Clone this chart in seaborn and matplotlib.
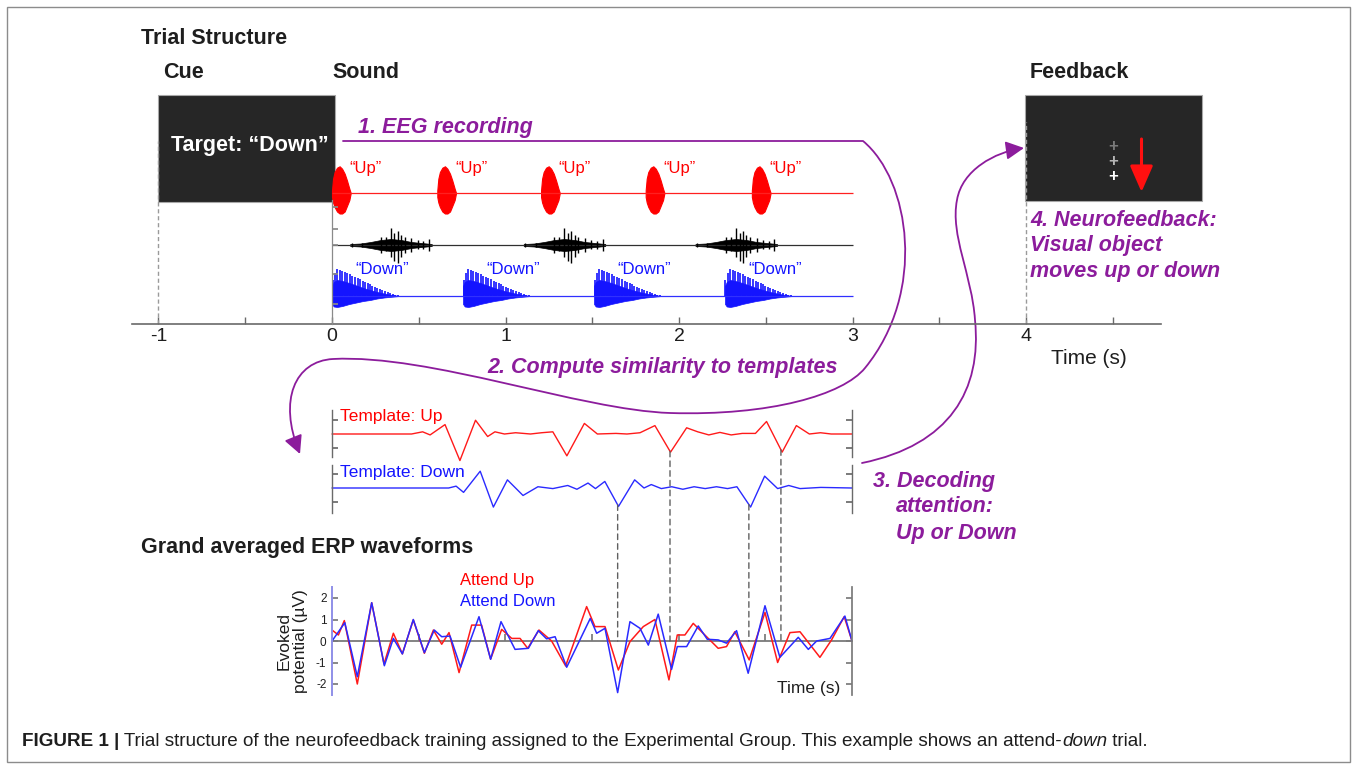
import numpy as np
import matplotlib
matplotlib.use("Agg")
import matplotlib.pyplot as plt
import seaborn as sns
from matplotlib.patches import Rectangle, FancyArrowPatch, ConnectionPatch
from matplotlib.path import Path

# ---------------- data ----------------
TIME_TICKS = [-1, 0, 1, 2, 3, 4]
TIME_MINOR = [-0.5, 0.5, 1.5, 2.5, 3.5, 4.5]
SOUND_END = 3.0

# red "Up" stream: burst onsets (s) and burst envelope (a.u.)
UP_ONSETS = [0.0, 0.607, 1.205, 1.808, 2.42]
UP_ENV_T = [0, 0.006, 0.015, 0.029, 0.044, 0.058, 0.073, 0.086, 0.100, 0.108]
UP_ENV_TOP = [0.27, 1.43, 2.10, 2.53, 2.67, 2.43, 1.93, 1.27, 0.43, 0.0]
UP_ENV_BOT = [-0.40, -0.95, -1.40, -1.85, -2.05, -2.05, -1.85, -1.30, -0.70, 0.0]

# blue "Down" stream
DOWN_ONSETS = [0.0, 0.755, 1.51, 2.265]
DOWN_ENV_T = [0, 0.01, 0.03, 0.06, 0.10, 0.14, 0.18, 0.22, 0.26, 0.30, 0.34, 0.39]
DOWN_ENV_MID = [1.0, 1.4, 1.6, 1.5, 1.3, 1.05, 0.8, 0.6, 0.4, 0.25, 0.12, 0.0]
DOWN_ENV_BOT = [-0.8, -1.05, -1.1, -1.0, -0.8, -0.65, -0.5, -0.4, -0.25, -0.15, -0.08, 0.0]
DOWN_SPIKE_T = [0.003, 0.017, 0.031, 0.046, 0.060, 0.075, 0.089, 0.104, 0.118, 0.133,
                0.147, 0.161, 0.176, 0.190, 0.205, 0.219, 0.233, 0.248, 0.262, 0.277,
                0.291, 0.305, 0.320, 0.334, 0.349, 0.363, 0.378]
DOWN_SPIKE_H = [1.6, 2.3, 2.7, 2.6, 2.5, 2.4, 2.3, 2.2, 2.0, 1.9,
                1.8, 1.7, 1.5, 1.4, 1.3, 1.2, 1.05, 0.95, 0.85, 0.7,
                0.6, 0.5, 0.4, 0.3, 0.2, 0.15, 0.1]

# black mixture (speech masker)
MIX_PEAKS = [0.34, 1.34, 2.33]
MIX_ENV_T = [-0.235, -0.176, -0.118, -0.059, 0, 0.059, 0.118, 0.176, 0.235]
MIX_ENV = [0.1, 0.15, 0.3, 0.5, 0.6, 0.5, 0.3, 0.2, 0.1]
MIX_SPIKE_T = [-0.225, -0.167, -0.059, -0.029, 0, 0.020, 0.039, 0.059, 0.078, 0.118, 0.153, 0.186, 0.220]
MIX_SPIKE_UP = [0.2, 0.2, 0.8, 0.8, 1.7, 1.2, 1.4, 1.0, 0.8, 0.7, 0.5, 0.4, 0.6]
MIX_SPIKE_DN = [-0.2, -0.2, -0.8, -0.6, -1.2, -1.6, -1.8, -1.2, -0.8, -0.7, -0.4, -0.4, -0.6]

# templates (a.u.)
TPL_UP_T = [0, 0.459, 0.523, 0.566, 0.652, 0.738, 0.828, 0.898, 0.94, 0.995, 1.059, 1.145,
            1.209, 1.274, 1.355, 1.456, 1.531, 1.638, 1.702, 1.777, 1.863, 1.953, 2.046,
            2.11, 2.174, 2.238, 2.303, 2.367, 2.443, 2.507, 2.597, 2.679, 2.754, 2.818,
            2.88, 3.0]
TPL_UP = [0, 0, 0.26, -0.11, 1.12, -3.16, 1.64, -0.30, 0.26, 0, 0.15, 0,
          0.15, 0.26, -2.60, 1.26, 0, 0.07, 0, 0.15, 1.0, -2.16, 0.74,
          0.26, -0.11, 0.19, -0.11, 0.07, 0.07, 1.49, -2.16, 1.0, 0, 0.15,
          0, 0]
TPL_DOWN_T = [0, 0.673, 0.716, 0.759, 0.855, 0.931, 1.012, 1.102, 1.188, 1.274, 1.36,
              1.413, 1.477, 1.52, 1.574, 1.653, 1.746, 1.80, 1.842, 1.90, 1.96, 2.024,
              2.089, 2.153, 2.218, 2.282, 2.336, 2.415, 2.496, 2.571, 2.635, 2.70, 2.82, 3.0]
TPL_DOWN = [0, 0, 0.22, -0.52, 2.0, -2.27, 0.97, -0.89, 0.15, -0.07, 0.30,
            -0.15, 0.59, -0.07, 0.78, -2.19, 0.97, 0, 0.41, -0.07, 0.15, -0.15,
            0.15, -0.07, 0.15, -0.07, 0.15, -2.27, 1.41, -0.07, 0.30, -0.07, 0.07, 0]

# grand averaged ERPs (uV)
ERP_UP_T = [0.0, 0.037, 0.071, 0.146, 0.229, 0.300, 0.354, 0.406, 0.469, 0.533, 0.585,
            0.633, 0.675, 0.733, 0.806, 0.863, 0.915, 0.979, 1.037, 1.085, 1.129, 1.194,
            1.267, 1.348, 1.469, 1.517, 1.575, 1.652, 1.719, 1.796, 1.863, 1.944, 1.992,
            2.036, 2.084, 2.151, 2.228, 2.276, 2.324, 2.407, 2.498, 2.571, 2.642, 2.70,
            2.815, 2.882, 2.955, 3.0]
ERP_UP = [0.51, 0.28, 0.95, -2.0, 1.78, -1.07, 0.36, -0.6, 0.98, -0.57, 0.51,
          -0.15, 0.39, -1.47, 0.74, 0.74, -0.84, 0.54, 0.12, 0.12, -0.34, 0.51,
          0.0, -1.16, 1.6, 0.67, 0.67, -1.35, -0.03, 0.67, 1.0, -1.81, 0.28,
          0.28, 0.82, 0.28, -0.34, -0.26, 0.43, -0.88, 1.33, -1.0, 0.39, 0.43,
          -0.76, 0.05, 1.13, 0.0]
ERP_DOWN_T = [0.0, 0.074, 0.146, 0.229, 0.302, 0.354, 0.406, 0.469, 0.533, 0.590, 0.633,
              0.681, 0.742, 0.848, 0.915, 0.975, 1.056, 1.133, 1.190, 1.238, 1.287, 1.354,
              1.49, 1.527, 1.575, 1.648, 1.719, 1.777, 1.825, 1.882, 1.959, 1.992, 2.046,
              2.113, 2.165, 2.228, 2.276, 2.334, 2.401, 2.498, 2.584, 2.690, 2.748, 2.796,
              2.873, 2.959, 3.0]
ERP_DOWN = [0.0, 0.85, -1.66, 1.78, -1.15, 0.12, -0.6, 1.0, -0.54, 0.51, 0.2,
            0.23, -1.22, 1.13, -0.85, 0.9, -0.39, -0.34, 0.48, 0.1, 0.2, -1.22,
            1.05, 0.36, 0.59, -2.4, 0.9, 0.59, -0.19, 1.25, -1.32, -0.26, -0.26,
            0.7, 0.08, 0.05, -0.1, 0.48, -1.5, 1.64, -0.76, 0.17, -0.39, 0.0,
            0.12, 1.16, 0.0]
ERP_TICKS = [-2, -1, 0, 1, 2]

# dashed links from template troughs to the ERP
DASH_T = [1.648, 1.950, 2.405, 2.590]
DASH_FROM = ["down", "up", "down", "up"]

# ---------------- style ----------------
PURPLE = "#8c1c9c"
DARK = "#262626"
TXT = "#1e1e1e"

sns.set_theme(style="white")
plt.rcParams["font.family"] = ["Liberation Sans", "DejaVu Sans"]
plt.rcParams["axes.unicode_minus"] = False
plt.rcParams["lines.solid_joinstyle"] = "round"

W, H = 1357, 769
fig = plt.figure(figsize=(W / 100, H / 100), dpi=100)


def fax(x0, y0, x1, y1):
    """axes from a pixel box (origin top-left)"""
    a = fig.add_axes([x0 / W, 1 - y1 / H, (x1 - x0) / W, (y1 - y0) / H])
    a.patch.set_alpha(0)
    return a


# overlay in pixel coordinates for annotations
ov = fax(0, 0, W, H)
ov.set_xlim(0, W)
ov.set_ylim(H, 0)
ov.axis("off")

ov.add_patch(Rectangle((7, 7), W - 14, H - 14, fill=False, ec="#8c8c8c", lw=1.0))
ov.add_patch(Rectangle((158, 95), 176.5, 106.5, fc=DARK, ec="#a8a8a8", lw=0.8))
ov.add_patch(Rectangle((1025, 94.5), 176.5, 106.5, fc=DARK, ec="#a8a8a8", lw=0.8))

bold = dict(fontsize=15.5, fontweight="bold", color=TXT, va="center")
ov.text(141, 38, "Trial Structure", ha="left", **bold)
ov.text(163, 73, "Cue", ha="left", **bold)
ov.text(332, 73, "Sound", ha="left", **bold)
ov.text(1030, 73, "Feedback", ha="left", **bold)
ov.text(141, 547, "Grand averaged ERP waveforms", ha="left", **bold)
ov.text(250, 146, "Target: \u201cDown\u201d", ha="center", va="center",
        fontsize=15.5, fontweight="bold", color="white")

pk = dict(fontsize=15.5, fontweight="bold", style="italic", color=PURPLE, va="center", ha="left")
ov.text(358, 128, "1. EEG recording", **pk)
ov.text(487, 368, "2. Compute similarity to templates", **pk)
ov.text(873, 481, "3. Decoding", **pk)
ov.text(896, 507, "attention:", **pk)
ov.text(896, 533, "Up or Down", **pk)
ov.text(1030, 221, "4. Neurofeedback:", **pk)
ov.text(1030, 246, "Visual object", **pk)
ov.text(1030, 271, "moves up or down", **pk)

# feedback display: three crosses and a red arrow
for yy, cc in zip([146, 161.5, 177], ["#7a7a7a", "#b5b5b5", "#ffffff"]):
    ov.text(1113.5, yy, "+", color=cc, fontsize=12, fontweight="bold", ha="center", va="center")
ov.annotate("", xy=(1141.5, 192), xytext=(1141.5, 139),
            arrowprops=dict(arrowstyle="-|>,head_length=0.8,head_width=0.35", color="#ff1010",
                            lw=2.2, mutation_scale=20, shrinkA=0, shrinkB=0))

# purple process arrows
MV, LN, C4 = Path.MOVETO, Path.LINETO, Path.CURVE4
pa = Path([(343, 141), (863, 141),
           (910, 180), (927, 292), (865, 368),
           (843, 395), (770, 416), (670, 413),
           (580, 410), (430, 354), (333, 359),
           (295, 361), (278, 400), (300, 454)],
          [MV, LN, C4, C4, C4, C4, C4, C4, C4, C4, C4, C4, C4, C4])
ov.add_patch(FancyArrowPatch(path=pa, arrowstyle="-|>,head_length=0.55,head_width=0.28",
                             mutation_scale=20, color=PURPLE, lw=1.3))
pb = Path([(862, 463),
           (950, 445), (982, 390), (975, 320),
           (972, 275), (950, 235), (957, 200),
           (962, 170), (995, 152), (1024, 148)],
          [MV, C4, C4, C4, C4, C4, C4, C4, C4, C4])
ov.add_patch(FancyArrowPatch(path=pb, arrowstyle="-|>,head_length=0.55,head_width=0.28",
                             mutation_scale=20, color=PURPLE, lw=1.3))

# ---------------- timeline with the sound streams ----------------
S, X0 = 173.5, 332.0
AX_TOP, AX_BOT = 60.0, 323.5
ax = fax(X0 - 1.15 * S, AX_TOP, X0 + 4.78 * S, AX_BOT)
ax.set_xlim(-1.15, 4.78)
ax.set_ylim(0, AX_BOT - AX_TOP)
for s in ["top", "left", "right"]:
    ax.spines[s].set_visible(False)
ax.spines["bottom"].set_color("#6a6a6a")
ax.spines["bottom"].set_linewidth(1.2)
ax.set_xticks(TIME_TICKS)
ax.set_xticklabels([str(t) for t in TIME_TICKS])
ax.set_xticks(TIME_MINOR, minor=True)
ax.tick_params(axis="x", which="both", direction="in", length=5, width=1, color="#6a6a6a",
               bottom=True, labelsize=14, labelcolor=TXT, pad=3)
ax.set_yticks([])
ov.text(1089, 358, "Time (s)", fontsize=15, color=TXT, ha="center", va="center")


def row(px):
    return AX_BOT - px


AMP = 10.0
R_UP, R_MIX, R_DOWN = row(193), row(245), row(296)

ax.plot([-1, -1], [0, row(141)], ls=(0, (3, 2)), color="#9a9a9a", lw=1)
ax.plot([4, 4], [0, row(122)], ls=(0, (3, 2)), color="#9a9a9a", lw=1)

ax.hlines([R_UP], 0, SOUND_END, color="#ff2020", lw=0.9)
ax.hlines([R_MIX], 0, SOUND_END, color="#303030", lw=0.9)
ax.hlines([R_DOWN], 0, SOUND_END, color="#3030ff", lw=0.9)

for on in UP_ONSETS:
    t = on + np.array(UP_ENV_T)
    ax.fill_between(t, R_UP + AMP * np.array(UP_ENV_BOT), R_UP + AMP * np.array(UP_ENV_TOP),
                    color="#ff0000", lw=0.8)
    ax.text(on + 0.195, row(168), "\u201cUp\u201d", color="#ff0000", fontsize=12,
            ha="center", va="center")

for on in DOWN_ONSETS:
    t = on + np.array(DOWN_ENV_T)
    ax.fill_between(t, R_DOWN + AMP * np.array(DOWN_ENV_BOT), R_DOWN + AMP * np.array(DOWN_ENV_MID),
                    color="#1414ff", lw=0.5)
    ax.vlines(on + np.array(DOWN_SPIKE_T), R_DOWN, R_DOWN + AMP * np.array(DOWN_SPIKE_H),
              color="#1414ff", lw=1.2)
    ax.text(on + 0.29, row(270), "\u201cDown\u201d", color="#1414ff", fontsize=12,
            ha="center", va="center")

for pkt in MIX_PEAKS:
    t = pkt + np.array(MIX_ENV_T)
    env = AMP * np.array(MIX_ENV)
    ax.fill_between(t, R_MIX - env, R_MIX + env, color="black", lw=0.5)
    ax.vlines(pkt + np.array(MIX_SPIKE_T), R_MIX + AMP * np.array(MIX_SPIKE_DN),
              R_MIX + AMP * np.array(MIX_SPIKE_UP), color="black", lw=1.0)

# small y-axis of the sound panel at t = 0
sax = fax(X0, 200, X0 + 3 * S, AX_BOT)
sax.set_xlim(0, 3)
sax.set_ylim(0, AX_BOT - 200)
for s in ["top", "bottom", "right"]:
    sax.spines[s].set_visible(False)
sax.spines["left"].set_color("#8a8a8a")
sax.spines["left"].set_linewidth(0.9)
sax.set_xticks([])
sax.set_yticks([row(206.5), row(229), row(245), row(274), row(304)])
sax.tick_params(axis="y", direction="in", length=4, color="#8a8a8a", labelleft=False, left=True)

# ---------------- templates ----------------
TSC = 8.4  # px per template unit


def tpl_axes(top, base, bot):
    a = fax(332, top, 852, bot)
    a.set_xlim(0, 3)
    a.set_ylim(-(bot - base) / TSC, (base - top) / TSC)
    for s in ["top", "bottom"]:
        a.spines[s].set_visible(False)
    for s in ["left", "right"]:
        a.spines[s].set_color("#6a6a6a")
        a.spines[s].set_linewidth(1.0)
    a.set_xticks([])
    a.set_yticks([-14 / TSC, 14 / TSC])
    a.tick_params(axis="y", direction="in", length=4, color="#6a6a6a", left=True, right=True,
                  labelleft=False, labelright=False)
    return a


tu = tpl_axes(410, 434, 457)
td = tpl_axes(465, 488, 513)
sns.lineplot(x=TPL_UP_T, y=TPL_UP, ax=tu, color="#ff1a1a", lw=1.0, clip_on=False)
sns.lineplot(x=TPL_DOWN_T, y=TPL_DOWN, ax=td, color="#2a2aff", lw=1.0, clip_on=False)
for a in (tu, td):
    a.set_xlabel("")
    a.set_ylabel("")
ov.text(340, 417, "Template: Up", color="#ff0000", fontsize=12.5, ha="left", va="center")
ov.text(340, 472, "Template: Down", color="#1414ff", fontsize=12.5, ha="left", va="center")

# ---------------- ERP ----------------
eax = fax(332, 587.25, 852, 694.75)
eax.set_xlim(0, 3)
eax.set_ylim(-2.5, 2.5)
sns.lineplot(x=ERP_UP_T, y=ERP_UP, ax=eax, color="#ff1a1a", lw=1.1)
sns.lineplot(x=ERP_DOWN_T, y=ERP_DOWN, ax=eax, color="#2a2aff", lw=1.1)
eax.set_xlabel("")
eax.set_ylabel("")
eax.spines["top"].set_visible(False)
eax.spines["bottom"].set_position(("data", 0))
eax.spines["bottom"].set_color("#7a7a7a")
eax.spines["bottom"].set_linewidth(1.3)
eax.spines["bottom"].set_zorder(0.5)
eax.spines["left"].set_color("#8f8fe8")
eax.spines["left"].set_linewidth(1.4)
eax.spines["right"].set_color("#7a7a7a")
eax.set_xticks([0.5, 1, 1.5, 2, 2.5])
eax.tick_params(axis="x", direction="in", length=5, color="#7a7a7a", labelbottom=False, bottom=True)
eax.set_yticks(ERP_TICKS)
eax.set_yticklabels([str(v) for v in ERP_TICKS])
eax.tick_params(axis="y", direction="in", length=4, color="#7a7a7a", left=True, right=True,
                labelsize=8.5, labelcolor=TXT, pad=4)

ov.text(460, 581, "Attend Up", color="#ff0000", fontsize=12, ha="left", va="center")
ov.text(460, 601, "Attend Down", color="#1414ff", fontsize=12, ha="left", va="center")
ov.text(292, 641, "Evoked\npotential (\u00b5V)", rotation=90, fontsize=12.5, color=TXT,
        ha="center", va="center", multialignment="center", linespacing=1.1)
ov.text(809, 688, "Time (s)", fontsize=12.5, color=TXT, ha="center", va="center")

for t, src in zip(DASH_T, DASH_FROM):
    a, tt, vv = (tu, TPL_UP_T, TPL_UP) if src == "up" else (td, TPL_DOWN_T, TPL_DOWN)
    con = ConnectionPatch(xyA=(t, np.interp(t, tt, vv)), coordsA=a.transData,
                          xyB=(t, 0), coordsB=eax.transData,
                          color="#606060", lw=1.0, ls=(0, (4, 3)))
    fig.add_artist(con)

# ---------------- caption ----------------
CAP = 13.6
c1 = ov.text(22, 742, "FIGURE 1 |", fontsize=CAP, fontweight="bold", color=TXT,
             ha="left", va="center")
c2 = ov.annotate(" Trial structure of the neurofeedback training assigned to the Experimental Group. "
                 "This example shows an attend-", xy=(1, 0), xycoords=c1, fontsize=CAP,
                 color=TXT, ha="left", va="bottom")
c3 = ov.annotate("down", xy=(1, 0), xycoords=c2, fontsize=CAP, style="italic", color=TXT,
                 ha="left", va="bottom")
ov.annotate(" trial.", xy=(1, 0), xycoords=c3, fontsize=CAP, color=TXT, ha="left", va="bottom")

fig.savefig("out.png", dpi=100)
